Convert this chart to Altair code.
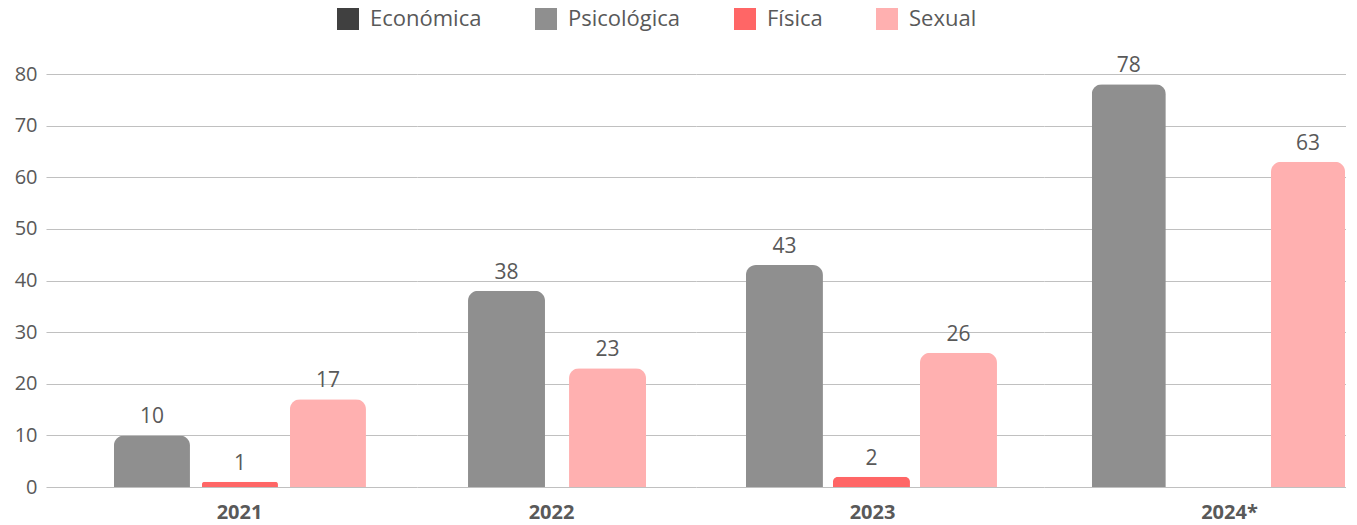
import altair as alt
import pandas as pd

years = ["2021", "2022", "2023", "2024*"]
series = ["Económica", "Psicológica", "Física", "Sexual"]
colors = ["#404040", "#8f8f8f", "#ff6666", "#ffb0b0"]
economica = [None, None, None, None]
psicologica = [10, 38, 43, 78]
fisica = [1, None, 2, None]
sexual = [17, 23, 26, 63]
y_ticks = [0, 10, 20, 30, 40, 50, 60, 70, 80]

values = {"Económica": economica, "Psicológica": psicologica, "Física": fisica, "Sexual": sexual}
rows = []
for i, yr in enumerate(years):
    for s in series:
        v = values[s][i]
        if v is not None:
            rows.append({"year": yr, "serie": s, "valor": v})
df = pd.DataFrame(rows)

FONT = "Open Sans"
TXT = "#595959"
GRID = "#c0c0c0"

# per-group panel layout (style only)
LAYOUT = [
    dict(width=371, pi=0.136, po=0.676, align=0.571, titleX=193),
    dict(width=279, pi=0.238, po=0.5, align=0.505, titleX=134),
    dict(width=348, pi=0.115, po=0.557, align=0.515, titleX=176),
    dict(width=302, pi=0.587, po=0.136, align=0.98, titleX=185),
]

legend = alt.Legend(
    title=None, orient="none", direction="horizontal", legendX=291, legendY=-66,
    symbolType="square", symbolSize=484, symbolStrokeWidth=0, symbolOpacity=1,
    labelFontSize=22, labelFont=FONT, labelColor=TXT, labelOffset=11,
    columnPadding=53, labelLimit=300,
)


def panel(i):
    yr = years[i]
    lay = LAYOUT[i]
    dom = [s for s in series if values[s][i] is not None]
    x = alt.X(
        "serie:N", sort=dom,
        scale=alt.Scale(domain=dom, paddingInner=lay["pi"], paddingOuter=lay["po"], align=lay["align"]),
        axis=alt.Axis(labels=False, ticks=False, domain=False, title=yr, titleFontWeight="bold",
                      titleFontSize=20, titleFont=FONT, titleColor=TXT, titleX=lay["titleX"],
                      titleY=25, titleBaseline="middle", titleAlign="center"),
    )
    y = alt.Y(
        "valor:Q", scale=alt.Scale(domain=[0, 80], nice=False),
        axis=alt.Axis(values=y_ticks, title=None, domain=False, ticks=False, labels=(i == 0),
                      labelPadding=9, labelFontSize=20, labelFont=FONT, labelColor=TXT,
                      grid=True, gridColor=GRID, gridWidth=1.2),
    )
    base = alt.Chart(df).transform_filter(alt.datum.year == yr)
    bars = base.mark_bar(cornerRadiusTopLeft=10, cornerRadiusTopRight=10).encode(
        x=x, y=y,
        color=alt.Color("serie:N", scale=alt.Scale(domain=series, range=colors), legend=legend),
    )
    labels = base.mark_text(baseline="bottom", dy=-8, fontSize=21, font=FONT, color=TXT).encode(
        x=x, y=y, text="valor:Q"
    )
    return alt.layer(bars, labels).properties(width=lay["width"], height=413)


chart = alt.hconcat(*[panel(i) for i in range(4)], spacing=0).resolve_scale(
    color="shared"
).properties(padding={"left": 6, "right": 0, "top": 0, "bottom": 0}).configure_view(stroke=None)

chart.save("out.html", embed_options={"renderer": "svg", "actions": False})
